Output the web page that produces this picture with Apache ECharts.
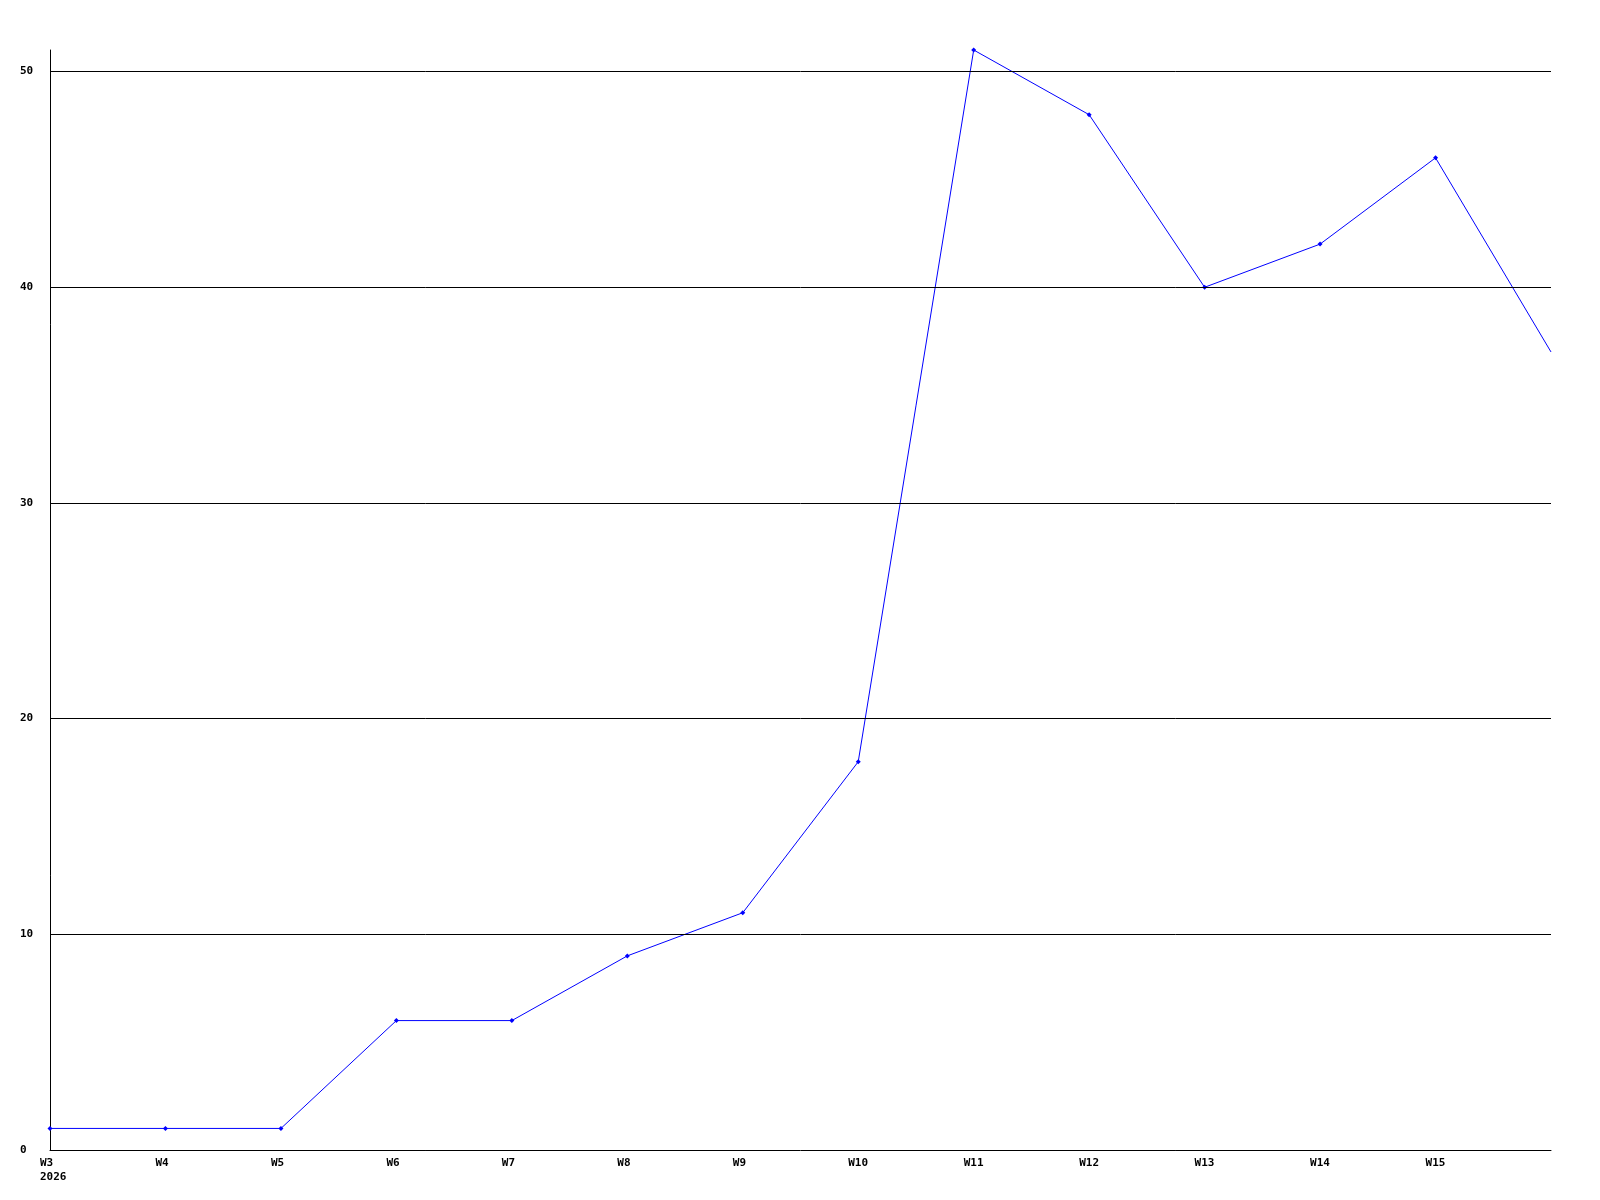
<!DOCTYPE html>
<html>
<head>
<meta charset="utf-8">
<script src="https://cdn.jsdelivr.net/npm/echarts@6/dist/echarts.min.js"></script>
<style>html,body{margin:0;padding:0;background:#fff;}#c{width:1600px;height:1200px;}</style>
</head>
<body>
<div id="c"></div>
<script>
const categories = ['W3','W4','W5','W6','W7','W8','W9','W10','W11','W12','W13','W14','W15','W16'];
const values = [1,1,1,6,6,9,11,18,51,48,40,42,46,37];
const gridValues = [10,20,30,40,50];
const yearLabel = '2026';

const chart = echarts.init(document.getElementById('c'), null, {renderer:'canvas'});
const font = '"DejaVu Sans Mono", monospace';
chart.setOption({
  animation: false,
  backgroundColor: '#fff',
  grid: {left: 50, right: 49, top: 50, bottom: 50},
  xAxis: {
    type: 'category',
    data: categories,
    boundaryGap: false,
    axisLine: {show: true, lineStyle: {color: '#000', width: 1}},
    axisTick: {show: false},
    splitLine: {show: false},
    axisLabel: {
      interval: 0,
      align: 'left',
      margin: 6,
      padding: [0,0,0,-10],
      lineHeight: 14,
      color: '#000',
      fontFamily: font,
      fontWeight: 'bold',
      fontSize: 11,
      formatter: function (v, i) {
        if (i === categories.length - 1) return '';
        return i === 0 ? v + '\n' + yearLabel : v;
      }
    }
  },
  yAxis: {
    type: 'value',
    min: 0,
    max: 51,
    interval: 10,
    axisLine: {show: true, lineStyle: {color: '#000', width: 1}},
    axisTick: {show: false},
    splitLine: {show: false},
    axisLabel: {
      align: 'left',
      margin: 30,
      color: '#000',
      fontFamily: font,
      fontWeight: 'bold',
      fontSize: 11,
      formatter: function (v) { return v % 10 === 0 ? String(v) : ''; }
    }
  },
  series: [{
    type: 'line',
    data: values.map((v, i) => i === values.length - 1 ? {value: v, symbol: 'none'} : v),
    symbol: 'diamond',
    symbolSize: 5,
    showAllSymbol: true,
    lineStyle: {color: '#0000ff', width: 1},
    itemStyle: {color: '#0000ff'},
    markLine: {
      silent: true,
      symbol: ['none','none'],
      label: {show: false},
      lineStyle: {color: '#000', width: 1, type: 'solid'},
      data: gridValues.map(v => ({yAxis: v}))
    },
    z: 3
  }]
});
</script>
</body>
</html>
